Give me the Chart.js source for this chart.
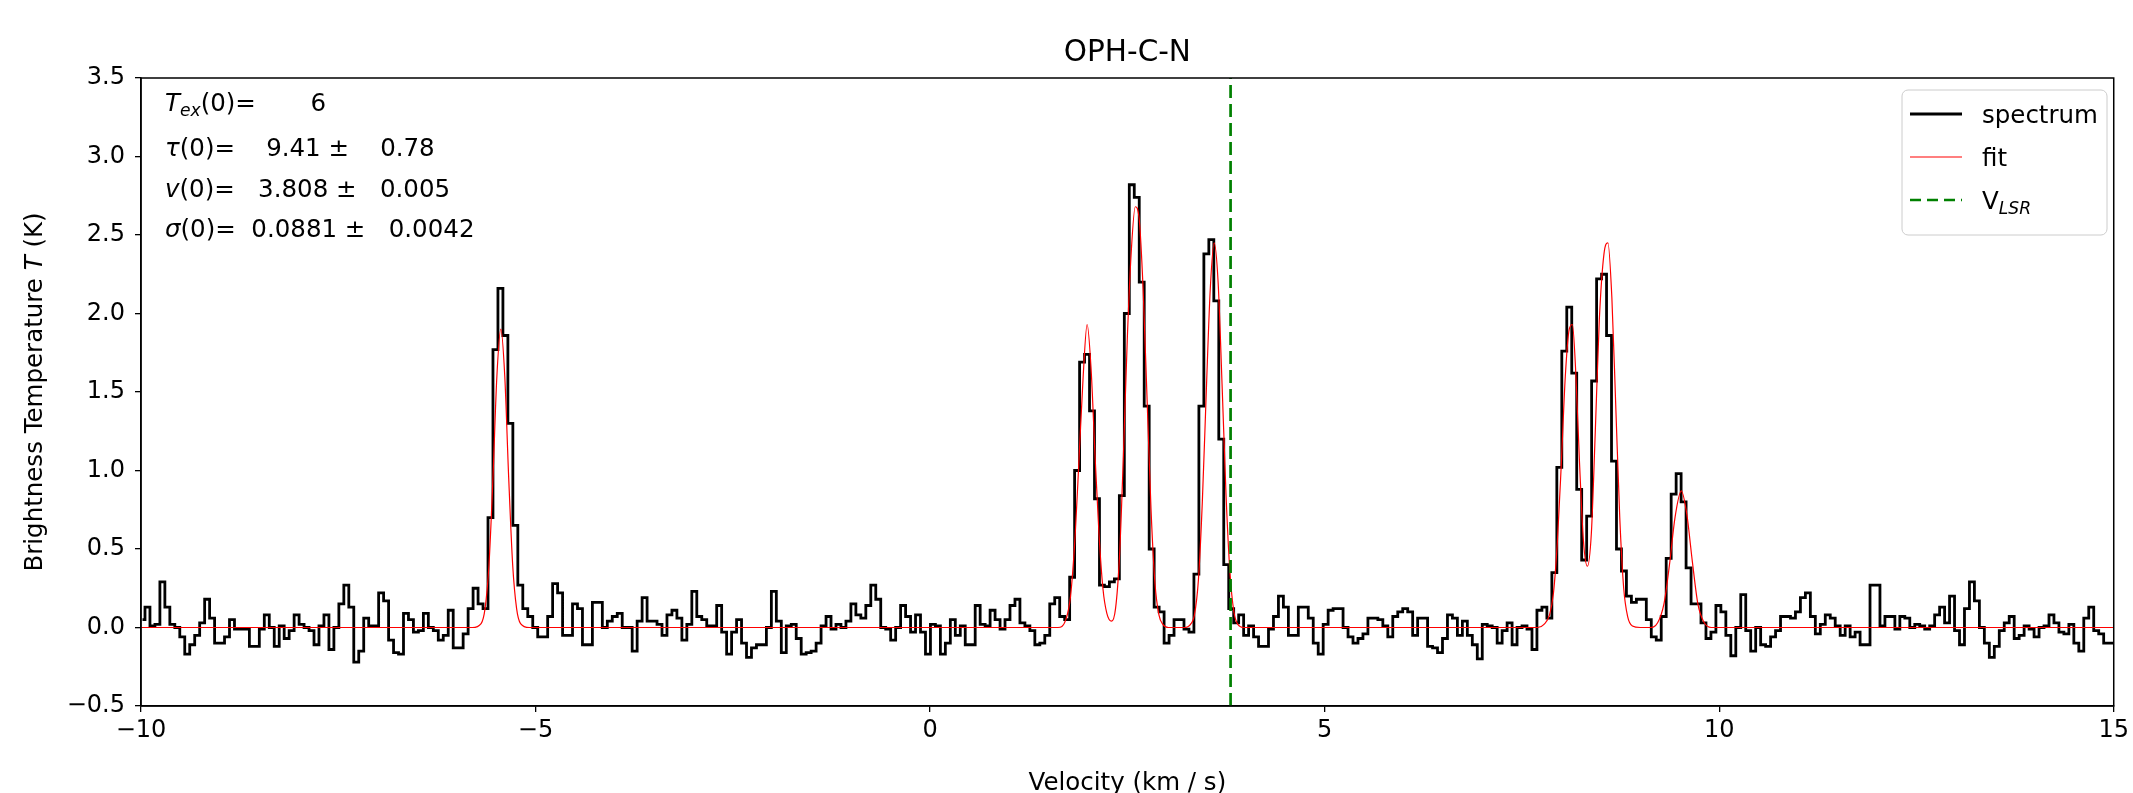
<!DOCTYPE html>
<html lang="en">
<head>
<meta charset="UTF-8">
<title>OPH-C-N</title>
<style>
  html, body { margin: 0; padding: 0; background: #fff; }
</style>
</head>
<body>
<canvas id="spec" width="2133" height="793"></canvas>
<script src="https://cdn.jsdelivr.net/npm/chart.js"></script>
<script>
// spectrum channels: centre of first channel and channel width (km/s)
const V_START = -9.981;
const DV = 0.063;

// brightness temperature per channel (K)
const temps = [
  0.05, 0.13, 0.01, 0.02, 0.29, 0.13, 0.02, 0.00, -0.06, -0.17, -0.11, -0.05, 0.03, 0.18, 0.06, -0.10, -0.10, -0.06, 0.05, -0.01,
  -0.01, -0.01, -0.12, -0.12, -0.01, 0.08, 0.00, -0.12, 0.01, -0.07, -0.02, 0.08, 0.02, 0.00, -0.02, -0.11, 0.01, 0.08, -0.14, 0.00,
  0.15, 0.27, 0.13, -0.22, -0.15, 0.06, 0.01, 0.01, 0.22, 0.17, -0.08, -0.16, -0.17, 0.09, 0.05, -0.03, -0.02, 0.09, 0.00, -0.02,
  -0.08, -0.05, 0.11, -0.13, -0.13, -0.04, 0.12, 0.25, 0.15, 0.12, 0.70, 1.77, 2.16, 1.86, 1.30, 0.65, 0.27, 0.12, 0.07, 0.00,
  -0.06, -0.06, 0.07, 0.28, 0.22, -0.05, -0.05, 0.15, 0.12, -0.11, -0.11, 0.16, 0.16, 0.00, 0.04, 0.07, 0.09, 0.00, 0.00, -0.15,
  0.04, 0.19, 0.04, 0.04, 0.02, -0.05, 0.08, 0.11, 0.06, -0.08, 0.02, 0.23, 0.07, 0.05, 0.01, 0.01, 0.14, -0.03, -0.17, -0.03,
  0.05, -0.10, -0.19, -0.13, -0.11, -0.11, 0.00, 0.23, 0.04, -0.16, 0.01, 0.02, -0.07, -0.17, -0.16, -0.15, -0.10, 0.01, 0.07, -0.01,
  0.02, 0.00, 0.04, 0.15, 0.08, 0.06, 0.14, 0.27, 0.18, 0.00, -0.01, -0.08, 0.00, 0.14, 0.07, -0.03, 0.08, -0.03, -0.17, 0.02,
  0.01, -0.17, -0.10, 0.05, -0.05, 0.01, -0.11, -0.11, 0.14, 0.02, 0.01, 0.11, 0.05, -0.01, 0.05, 0.14, 0.18, 0.03, 0.01, -0.02,
  -0.11, -0.10, -0.05, 0.15, 0.19, 0.07, 0.05, 0.32, 1.00, 1.69, 1.74, 1.38, 0.82, 0.27, 0.26, 0.29, 0.31, 0.84, 2.00, 2.82,
  2.74, 2.20, 1.41, 0.50, 0.13, 0.10, -0.10, -0.05, 0.05, 0.05, -0.01, -0.03, 0.34, 1.41, 2.38, 2.47, 2.08, 1.20, 0.40, 0.12,
  0.03, 0.08, -0.05, 0.01, -0.06, -0.12, -0.12, -0.01, 0.07, 0.20, 0.13, -0.05, -0.05, 0.13, 0.13, 0.06, -0.10, -0.17, 0.02, 0.11,
  0.12, 0.12, 0.00, -0.06, -0.10, -0.07, -0.04, 0.06, 0.06, 0.05, 0.01, -0.06, 0.07, 0.10, 0.12, 0.10, -0.05, 0.06, 0.06, -0.12,
  -0.13, -0.16, -0.07, 0.08, 0.06, -0.05, 0.04, -0.05, -0.11, -0.20, 0.02, 0.01, 0.00, -0.10, -0.02, 0.03, -0.11, 0.00, 0.01, -0.01,
  -0.14, 0.11, 0.13, 0.06, 0.35, 1.02, 1.76, 2.04, 1.62, 0.88, 0.43, 0.71, 1.57, 2.22, 2.25, 1.86, 1.06, 0.50, 0.36, 0.20,
  0.16, 0.18, 0.18, 0.05, -0.06, -0.08, 0.07, 0.44, 0.85, 0.98, 0.80, 0.38, 0.15, 0.15, 0.03, -0.07, -0.03, 0.14, 0.10, -0.05,
  -0.18, 0.00, 0.21, -0.02, -0.15, 0.00, -0.11, -0.12, -0.06, -0.02, 0.07, 0.07, 0.06, 0.10, 0.19, 0.22, 0.07, -0.04, 0.02, 0.08,
  0.06, 0.01, -0.05, 0.01, -0.06, -0.03, -0.11, -0.11, 0.27, 0.27, 0.01, 0.07, 0.07, -0.01, 0.07, 0.06, 0.00, 0.02, 0.01, -0.01,
  0.01, 0.08, 0.13, 0.03, 0.20, -0.02, -0.11, 0.12, 0.29, 0.17, 0.00, -0.10, -0.19, -0.12, -0.02, 0.03, 0.07, -0.07, -0.05, 0.01,
  -0.01, -0.06, 0.00, 0.01, 0.08, 0.03, -0.03, -0.04, 0.02, -0.10, -0.15, 0.06, 0.13, -0.02, -0.04, -0.10, -0.10, -0.10
];

// hyperfine fit, sampled off the red curve
const fitVel = [
  -10, -5.80, -5.69, -5.64, -5.59, -5.54, -5.49, -5.44, -5.39, -5.34, -5.29, -5.24, -5.19, -5.08,
  1.62, 1.72, 1.78, 1.84, 1.89, 1.94, 1.99, 2.04, 2.09, 2.14, 2.19, 2.24, 2.30, 2.35, 2.40, 2.45, 2.50, 2.55, 2.60, 2.65, 2.70, 2.75, 2.80, 2.85, 2.90, 2.95, 3.02,
  3.22, 3.30, 3.35, 3.40, 3.45, 3.50, 3.55, 3.60, 3.65, 3.70, 3.75, 3.80, 3.85, 3.90, 3.98,
  7.70, 7.78, 7.85, 7.90, 7.95, 8.00, 8.05, 8.10, 8.14, 8.18, 8.23, 8.28, 8.33, 8.38, 8.43, 8.48, 8.54, 8.59, 8.64, 8.69, 8.74, 8.79, 8.84, 8.90, 9.00,
  9.12, 9.22, 9.30, 9.37, 9.44, 9.52, 9.59, 9.66, 9.73, 9.80, 9.90, 15
];
const fitTemp = [
  0, 0, 0.025, 0.12, 0.40, 0.95, 1.60, 1.90, 1.60, 0.95, 0.40, 0.12, 0.025, 0,
  0, 0.05, 0.2, 0.6, 1.1, 1.6, 1.93, 1.65, 1.1, 0.6, 0.25, 0.09, 0.04, 0.12, 0.45, 1.1, 1.85, 2.4, 2.68, 2.6, 2.15, 1.45, 0.75, 0.28, 0.08, 0.02, 0,
  0, 0.02, 0.08, 0.3, 0.8, 1.5, 2.15, 2.45, 2.2, 1.55, 0.85, 0.35, 0.1, 0.02, 0,
  0, 0.02, 0.08, 0.22, 0.55, 1.05, 1.6, 1.9, 1.93, 1.65, 1.05, 0.55, 0.39, 0.6, 1.25, 1.95, 2.38, 2.45, 2.1, 1.4, 0.7, 0.25, 0.07, 0.01, 0,
  0, 0.03, 0.15, 0.4, 0.7, 0.87, 0.72, 0.42, 0.15, 0.04, 0, 0
];

const vLsr = 3.808;
const xTicks = [-10, -5, 0, 5, 10, 15];
const yTicks = [-0.5, 0.0, 0.5, 1.0, 1.5, 2.0, 2.5, 3.0, 3.5];

const chartTitle = 'OPH-C-N';
const xLabel = 'Velocity (km / s)';
// fit parameters box: [symbol, subscript, rest]
const fitParams = [
  ['T', 'ex', '(0)=       6'],
  ['\u03c4', '', '(0)=    9.41 \u00b1    0.78'],
  ['v', '', '(0)=   3.808 \u00b1   0.005'],
  ['\u03c3', '', '(0)=  0.0881 \u00b1   0.0042']
];

const FONT = '"DejaVu Sans", sans-serif';
const TICK_SIZE = 24;
const LABEL_SIZE = 24.5;
const TITLE_SIZE = 29.5;

const minus = s => String(s).replace('-', '\u2212');

function drawParts(ctx, parts, x, y, size) {
  // parts: [text, italic, sub]
  let cx = x;
  for (const [txt, italic, sub] of parts) {
    const fs = sub ? size * 0.7 : size;
    ctx.font = `${italic ? 'italic ' : ''}${fs}px ${FONT}`;
    ctx.fillText(txt, cx, sub ? y + size * 0.22 : y);
    cx += ctx.measureText(txt).width;
  }
  return cx - x;
}
function partsWidth(ctx, parts, size) {
  let w = 0;
  for (const [txt, italic, sub] of parts) {
    const fs = sub ? size * 0.7 : size;
    ctx.font = `${italic ? 'italic ' : ''}${fs}px ${FONT}`;
    w += ctx.measureText(txt).width;
  }
  return w;
}

const decorations = {
  id: 'decorations',
  afterDraw(chart) {
    const {ctx, chartArea: a} = chart;
    ctx.save();
    // box around the axes
    ctx.strokeStyle = '#000';
    ctx.lineWidth = 1.5;
    ctx.strokeRect(a.left, a.top, a.right - a.left, a.bottom - a.top);

    ctx.fillStyle = '#000';
    ctx.textBaseline = 'alphabetic';
    const cx = (a.left + a.right) / 2;

    // title
    ctx.font = `${TITLE_SIZE}px ${FONT}`;
    ctx.textAlign = 'center';
    ctx.fillText(chartTitle, cx, 61);

    // x label
    ctx.font = `${LABEL_SIZE}px ${FONT}`;
    ctx.fillText(xLabel, cx, 790);

    // y label, rotated
    ctx.textAlign = 'left';
    const yParts = [['Brightness Temperature ', false, false], ['T', true, false], [' (K)', false, false]];
    ctx.save();
    ctx.translate(42, (a.top + a.bottom) / 2);
    ctx.rotate(-Math.PI / 2);
    const yw = partsWidth(ctx, yParts, LABEL_SIZE);
    drawParts(ctx, yParts, -yw / 2, 0, LABEL_SIZE);
    ctx.restore();

    // fit parameters
    const rows = [111, 156, 197, 237];
    fitParams.forEach((p, i) => {
      const parts = [[p[0], true, false]];
      if (p[1]) parts.push([p[1], true, true]);
      parts.push([p[2], false, false]);
      drawParts(ctx, parts, a.left + 24, rows[i], LABEL_SIZE);
    });

    // legend
    const lx = 1902, ly = 90, lw = 205, lh = 145;
    ctx.beginPath();
    ctx.roundRect(lx, ly, lw, lh, 6);
    ctx.fillStyle = 'rgba(255,255,255,0.8)';
    ctx.fill();
    ctx.strokeStyle = '#cccccc';
    ctx.lineWidth = 1;
    ctx.stroke();
    const items = [
      {parts: [['spectrum', false, false]], color: '#000', width: 2.8, dash: [], y: 114},
      {parts: [['fit', false, false]], color: '#ff0000', width: 1.2, dash: [], y: 157},
      {parts: [['V', false, false], ['LSR', true, true]], color: '#008000', width: 2.7, dash: [11, 6], y: 200}
    ];
    for (const it of items) {
      ctx.beginPath();
      ctx.setLineDash(it.dash);
      ctx.strokeStyle = it.color;
      ctx.lineWidth = it.width;
      ctx.moveTo(1910, it.y);
      ctx.lineTo(1962, it.y);
      ctx.stroke();
      ctx.setLineDash([]);
      ctx.fillStyle = '#000';
      drawParts(ctx, it.parts, 1982, it.y + 9, LABEL_SIZE);
    }
    ctx.restore();
  }
};

const axisCommon = {
  type: 'linear',
  grid: {display: true, drawOnChartArea: false, drawTicks: true, tickLength: 6, color: '#000', lineWidth: 1.3},
  border: {display: true, color: '#000', width: 1.5}
};

new Chart(document.getElementById('spec').getContext('2d'), {
  type: 'line',
  data: {
    datasets: [
      {
        label: 'spectrum',
        data: temps.map((t, i) => ({x: V_START + i * DV, y: t})),
        stepped: 'middle',
        borderColor: '#000',
        borderWidth: 2.8,
        pointRadius: 0,
        order: 3
      },
      {
        label: 'fit',
        data: fitVel.map((v, i) => ({x: v, y: fitTemp[i]})),
        borderColor: '#ff0000',
        borderWidth: 1.2,
        cubicInterpolationMode: 'monotone',
        pointRadius: 0,
        order: 2
      },
      {
        label: 'VLSR',
        data: [{x: vLsr, y: yTicks[0]}, {x: vLsr, y: yTicks[yTicks.length - 1]}],
        borderColor: '#008000',
        borderWidth: 2.7,
        borderDash: [13, 6],
        pointRadius: 0,
        order: 1
      }
    ]
  },
  options: {
    responsive: false,
    animation: false,
    events: [],
    devicePixelRatio: 1,
    layout: {padding: {top: 78, right: 16, bottom: 0, left: 0}},
    plugins: {legend: {display: false}, tooltip: {enabled: false}, title: {display: false}},
    scales: {
      x: {
        ...axisCommon,
        min: xTicks[0],
        max: xTicks[xTicks.length - 1],
        afterBuildTicks: axis => { axis.ticks = xTicks.map(v => ({value: v})); },
        afterFit: axis => { axis.height = 87; },
        ticks: {color: '#000', font: {family: FONT, size: TICK_SIZE}, padding: 4, maxRotation: 0,
                callback: v => minus(v)}
      },
      y: {
        ...axisCommon,
        min: yTicks[0],
        max: yTicks[yTicks.length - 1],
        afterBuildTicks: axis => { axis.ticks = yTicks.map(v => ({value: v})); },
        afterFit: axis => { axis.width = 141; },
        ticks: {color: '#000', font: {family: FONT, size: TICK_SIZE}, padding: 10,
                callback: v => minus(Number(v).toFixed(1))}
      }
    }
  },
  plugins: [decorations]
});
</script>
</body>
</html>
